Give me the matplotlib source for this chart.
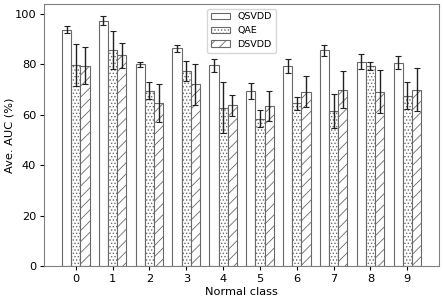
import numpy as np
import matplotlib
matplotlib.use('Agg')
from matplotlib import pyplot as plt

classes = [0, 1, 2, 3, 4, 5, 6, 7, 8, 9]
qsvdd = [93.8, 97.3, 80.0, 86.3, 79.6, 69.4, 79.3, 85.6, 81.0, 80.7]
qsvdd_err = [1.4, 1.7, 1.0, 1.5, 2.5, 3.1, 2.7, 2.2, 2.9, 2.5]
qae = [79.8, 85.8, 69.6, 77.5, 62.8, 58.5, 64.5, 61.4, 79.4, 67.6]
qae_err = [8.3, 7.5, 3.2, 4.0, 10.0, 3.5, 2.7, 6.8, 1.5, 5.5]
dsvdd = [79.4, 83.5, 64.5, 72.0, 63.8, 63.5, 69.2, 70.0, 69.2, 70.0]
dsvdd_err = [7.3, 4.8, 7.5, 8.2, 4.1, 5.8, 6.3, 7.5, 8.7, 8.5]

plt.rcParams['font.size'] = 8.2
plt.rcParams['hatch.color'] = 'dimgray'
plt.rcParams['hatch.linewidth'] = 0.6

fig, ax = plt.subplots(figsize=(4.44, 3.0), dpi=100)
fig.subplots_adjust(left=0.099, right=0.989, top=0.987, bottom=0.113)

x = np.arange(len(classes))
w = 0.25
err_kw = dict(ecolor='#222222', elinewidth=1.0, capsize=2.5, capthick=0.8)

ax.bar(x - w, qsvdd, w, yerr=qsvdd_err, color='white', edgecolor='dimgray',
       linewidth=0.8, label='QSVDD', error_kw=err_kw)
ax.bar(x, qae, w, yerr=qae_err, color='white', edgecolor='dimgray',
       linewidth=0.8, hatch='.....', label='QAE', error_kw=err_kw)
ax.bar(x + w, dsvdd, w, yerr=dsvdd_err, color='white', edgecolor='dimgray',
       linewidth=0.8, hatch='///', label='DSVDD', error_kw=err_kw)

ax.set_xticks(x)
ax.set_xticklabels([str(c) for c in classes])
ax.tick_params(labelsize=8.2, length=3, pad=2.5)
ax.set_xlabel('Normal class', labelpad=2)
ax.set_ylabel('Ave. AUC (%)')
ax.yaxis.set_label_coords(-0.074, 0.5)
for s in ax.spines.values():
    s.set_color('gray')
ax.legend(loc='upper center', fontsize=6.8)

plt.savefig('out.png', dpi=100)
